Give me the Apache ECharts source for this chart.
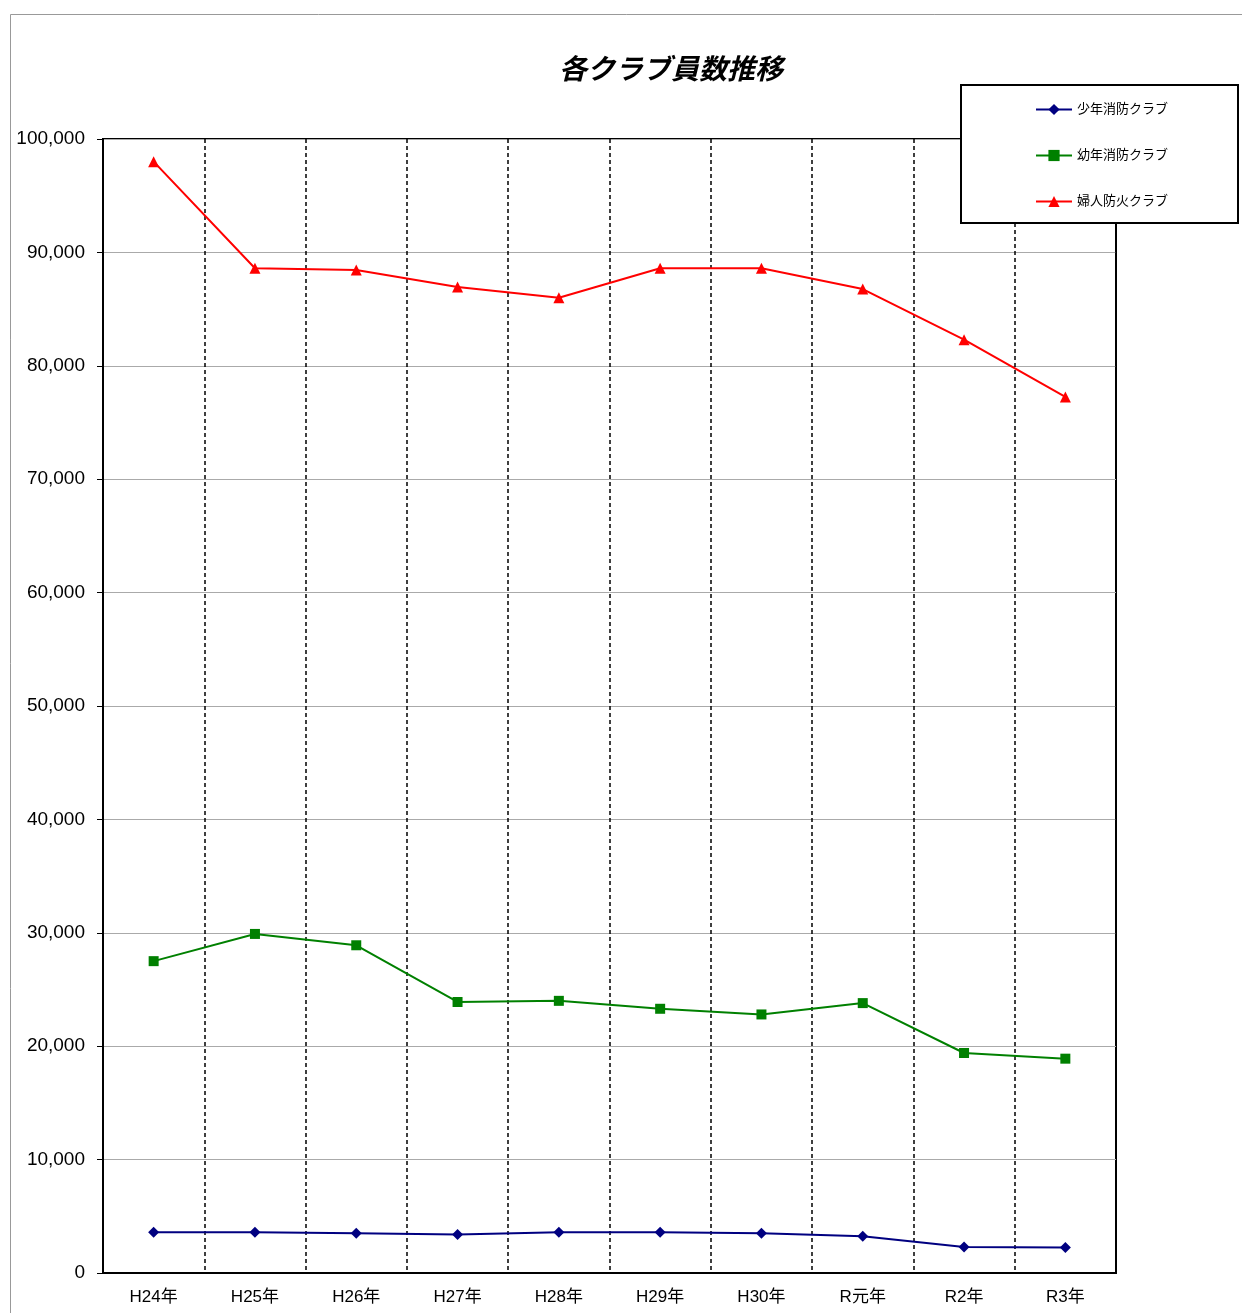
<!DOCTYPE html>
<html><head><meta charset="utf-8">
<script src="https://cdn.jsdelivr.net/npm/echarts@6/dist/echarts.min.js"></script>
<style>html,body{margin:0;padding:0;background:#fff}#c{width:1242px;height:1313px}</style>
</head><body><div id="c"></div>
<script>
const categories = ['H24年','H25年','H26年','H27年','H28年','H29年','H30年','R元年','R2年','R3年'];
const shonen = [3600,3600,3500,3400,3600,3600,3500,3250,2300,2250];
const yonen = [27500,29900,28900,23900,24000,23300,22800,23800,19400,18900];
const fujin = [98000,88600,88450,86950,86000,88600,88600,86770,82300,77250];
const seriesNames = ['少年消防クラブ','幼年消防クラブ','婦人防火クラブ'];
const FONT = '"Liberation Sans", "Noto Sans CJK JP", sans-serif';

const chart = echarts.init(document.getElementById('c'));
chart.setOption({
  animation: false,
  backgroundColor: '#fff',
  title: {
    text: '各クラブ員数推移', left: 666, top: 49, textAlign: 'center',
    textStyle: {fontSize: 28, fontWeight: 'bold', fontStyle: 'italic', color: '#000', fontFamily: '"Noto Sans CJK JP", sans-serif'}
  },
  graphic: [{
    type: 'polyline', silent: true,
    shape: {points: [[10.5, 1313], [10.5, 14.5], [1242, 14.5]]},
    style: {stroke: '#999', lineWidth: 1, fill: null}
  }],
  legend: {
    orient: 'vertical', left: 961, top: 85,
    padding: [18, 70, 15, 74], itemGap: 33, itemWidth: 36, itemHeight: 14,
    backgroundColor: '#fff', borderColor: '#000', borderWidth: 2,
    textStyle: {fontSize: 13, color: '#000', fontFamily: FONT},
    data: seriesNames
  },
  grid: {left: 103, right: 126, top: 139, bottom: 40, show: true, borderColor: '#000', borderWidth: 2, containLabel: false},
  xAxis: {
    type: 'category', data: categories, boundaryGap: true,
    axisLine: {lineStyle: {color: '#000', width: 2}},
    axisTick: {show: false},
    axisLabel: {fontSize: 17, color: '#000', margin: 16, fontFamily: FONT},
    splitLine: {show: true, lineStyle: {color: '#000', width: 1.5, type: [4, 3]}}
  },
  yAxis: {
    type: 'value', min: 0, max: 100000, interval: 10000,
    axisLine: {show: true, lineStyle: {color: '#000', width: 2}},
    axisTick: {show: true, inside: false, length: 6, lineStyle: {color: '#000', width: 1}},
    axisLabel: {fontSize: 19, color: '#000', margin: 18, fontFamily: FONT,
      formatter: v => v.toLocaleString('en-US')},
    splitLine: {show: true, lineStyle: {color: '#aaa', width: 1}}
  },
  series: [
    {name: seriesNames[0], type: 'line', data: shonen, symbol: 'diamond', symbolSize: 11,
     itemStyle: {color: '#000080'}, lineStyle: {color: '#000080', width: 2}},
    {name: seriesNames[1], type: 'line', data: yonen, symbol: 'rect', symbolSize: 10,
     itemStyle: {color: '#008000'}, lineStyle: {color: '#008000', width: 2}},
    {name: seriesNames[2], type: 'line', data: fujin, symbol: 'triangle', symbolSize: 11,
     itemStyle: {color: '#ff0000'}, lineStyle: {color: '#ff0000', width: 2}}
  ]
});
</script></body></html>
